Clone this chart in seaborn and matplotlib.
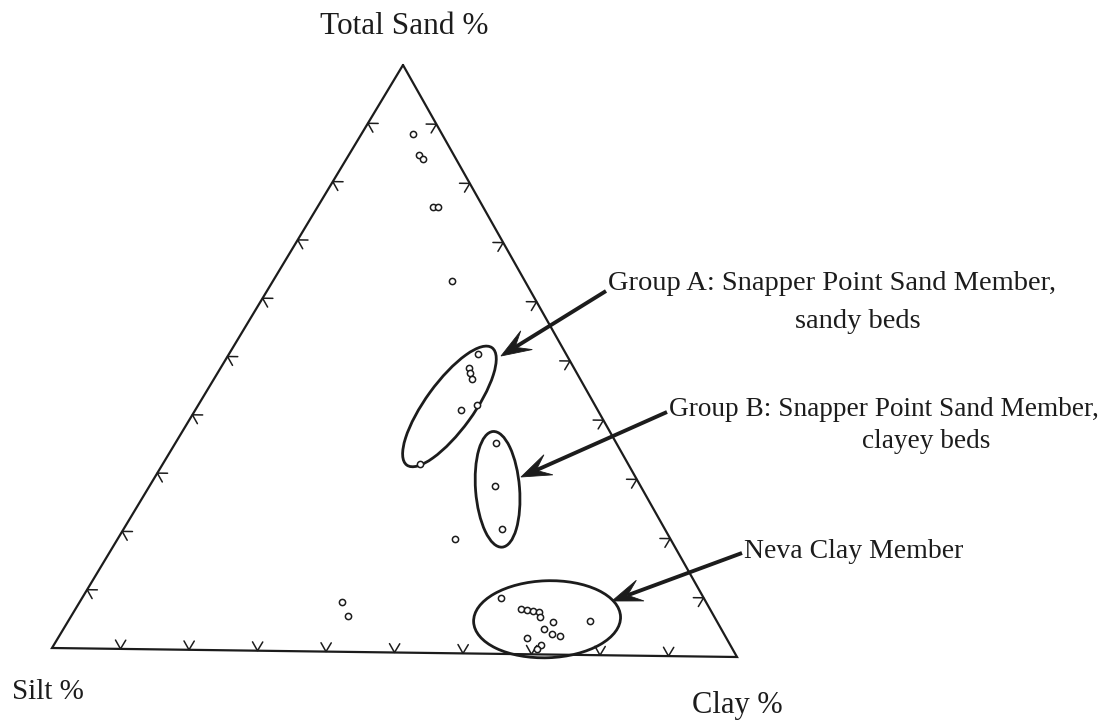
import numpy as np
import pandas as pd
import matplotlib
matplotlib.use("Agg")
import matplotlib.pyplot as plt
from matplotlib.patches import Ellipse, Polygon
import seaborn as sns

# Grain-size compositions (percent). Silt is the remainder to 100.
sand = [88.3, 84.7, 84.0, 75.9, 75.9, 63.4,
        51.0, 48.6, 47.7, 46.7, 42.3, 41.4, 32.1,
        35.9, 28.6, 21.3,
        19.5, 8.5, 6.1,
        9.5, 7.7, 7.5, 7.4, 7.2, 6.4, 5.5, 5.8, 4.3, 3.5, 3.2, 2.8, 1.6, 0.9]
clay = [7.5, 10.2, 11.1, 16.7, 17.5, 25.9,
        36.1, 36.0, 36.6, 37.4, 40.4, 38.5, 37.3,
        46.4, 50.0, 54.8,
        48.9, 38.0, 40.1,
        60.7, 64.5, 65.5, 66.4, 67.4, 68.0, 70.3, 75.6, 69.6, 71.2, 72.5, 67.9, 70.6, 70.3]

# Grouping ellipses: centre composition (sand %, clay %)
group_names = ["Group A", "Group B", "Neva"]
group_sand = [42.0, 28.0, 6.0]
group_clay = [36.5, 50.7, 69.2]

tick_values = [10, 20, 30, 40, 50, 60, 70, 80, 90]

corner_labels = ["Total Sand %", "Silt %", "Clay %"]
group_lines = [
    ["Group A: Snapper Point Sand Member,", "sandy beds"],
    ["Group B: Snapper Point Sand Member,", "clayey beds"],
    ["Neva Clay Member"],
]

INK = "#1c1c1c"
sns.set_theme(style="white")
plt.rcParams["font.family"] = ["Liberation Serif", "DejaVu Serif"]

fig = plt.figure(figsize=(11.09, 7.21), dpi=100)
ax = fig.add_axes([0, 0, 1, 1])

# Corner positions of the triangle in the drawing plane
V_TOP = np.array([403.0, 65.0])
V_SILT = np.array([52.0, 648.0])
V_CLAY = np.array([737.0, 657.0])


def tern(s, c):
    s = np.asarray(s, float) / 100.0
    c = np.asarray(c, float) / 100.0
    t = 1.0 - s - c
    x = s * V_TOP[0] + t * V_SILT[0] + c * V_CLAY[0]
    y = s * V_TOP[1] + t * V_SILT[1] + c * V_CLAY[1]
    return x, y


# Triangle outline
tx, ty = tern([100, 0, 0, 100], [0, 0, 100, 0])
ax.plot(tx, ty, color=INK, lw=1.6, solid_joinstyle="miter")

# Chevron ticks every 10 %, arms follow the two other grid directions
d = 1.5
for k in tick_values:
    # left edge (sand axis)
    xs, ys = tern([k, k, k - d], [d, 0, d])
    ax.plot(xs, ys, color=INK, lw=1.1)
    # base (clay axis)
    xs, ys = tern([d, 0, d], [k - d, k, k])
    ax.plot(xs, ys, color=INK, lw=1.1)
    # right edge
    xs, ys = tern([k, k, k - d], [100 - k - d, 100 - k, 100 - k])
    ax.plot(xs, ys, color=INK, lw=1.1)

# Sample points
px, py = tern(sand, clay)
df = pd.DataFrame({"x": px, "y": py})
sns.scatterplot(data=df, x="x", y="y", ax=ax, marker="o", s=20,
                color="white", edgecolor=INK, linewidth=1.1, zorder=4,
                legend=False)

# Grouping ellipses (sizes in drawing units)
ell_w = [145, 116, 147]
ell_h = [48, 44, 77]
ell_ang = [-54, 85.5, -2]
gx, gy = tern(group_sand, group_clay)
for cx, cy, w, h, a in zip(gx, gy, ell_w, ell_h, ell_ang):
    ax.add_patch(Ellipse((cx, cy), w, h, angle=a, fill=False,
                         ec=INK, lw=2.0, zorder=3))


def barbed_arrow(tail, tip, head_len=30, head_w=11, notch=0.55, lw=2.8):
    tail = np.array(tail, float)
    tip = np.array(tip, float)
    u = (tip - tail) / np.linalg.norm(tip - tail)
    n = np.array([-u[1], u[0]])
    base = tip - head_len * u
    inner = tip - notch * head_len * u
    ax.plot([tail[0], inner[0]], [tail[1], inner[1]], color=INK, lw=lw,
            solid_capstyle="butt", zorder=5)
    ax.add_patch(Polygon([tip, base + head_w * n, inner, base - head_w * n],
                         closed=True, fc=INK, ec=INK, lw=0.6, zorder=5))


barbed_arrow((606, 291), (501, 356))
barbed_arrow((667, 412), (521, 477))
barbed_arrow((742, 553), (612, 601))

# Labels
txt = dict(color=INK, va="center")
ax.text(404, 27, corner_labels[0], fontsize=22.5, ha="center", **txt)
ax.text(12, 692, corner_labels[1], fontsize=21, ha="left", **txt)
ax.text(692, 705, corner_labels[2], fontsize=22, ha="left", **txt)

ax.text(608, 283, group_lines[0][0], fontsize=20.5, ha="left", **txt)
ax.text(795, 322, group_lines[0][1], fontsize=20.5, ha="left", **txt)
ax.text(669, 410, group_lines[1][0], fontsize=19.6, ha="left", **txt)
ax.text(862, 441, group_lines[1][1], fontsize=19.6, ha="left", **txt)
ax.text(744, 552, group_lines[2][0], fontsize=20, ha="left", **txt)

ax.set_xlim(0, 1109)
ax.set_ylim(721, 0)
ax.axis("off")

fig.savefig("out.png", dpi=100, facecolor="white")
